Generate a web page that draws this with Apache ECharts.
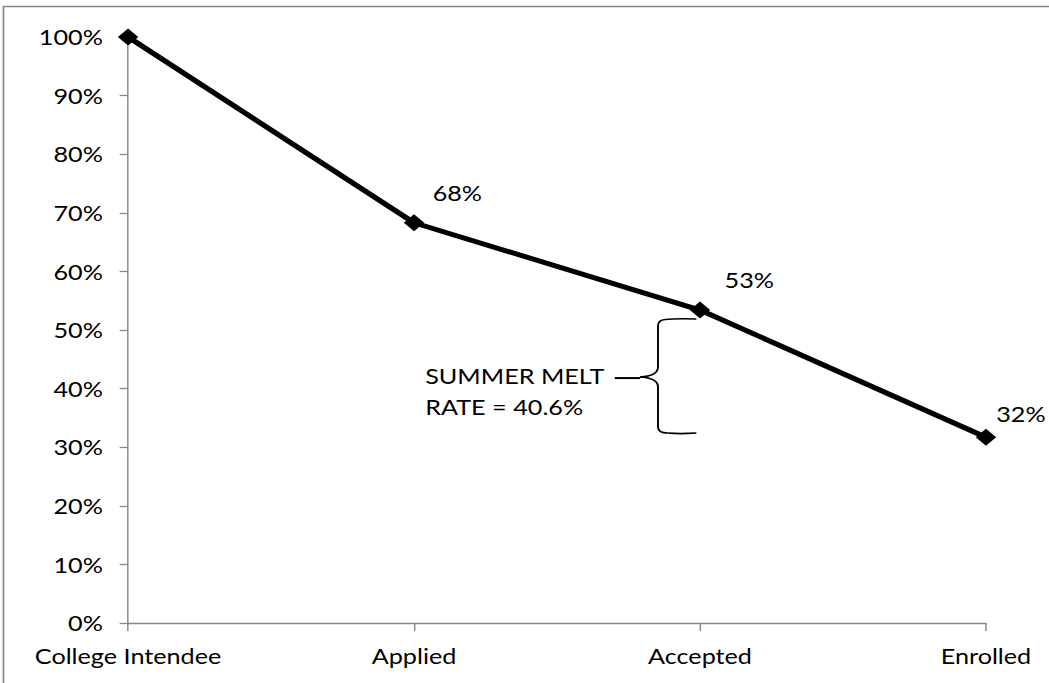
<!DOCTYPE html>
<html>
<head>
<meta charset="utf-8">
<script src="https://cdn.jsdelivr.net/npm/echarts@6/dist/echarts.min.js"></script>
<style>
  html, body { margin: 0; padding: 0; background: #fff; overflow: hidden; }
  /* the chart is laid out narrower and widened to the page width */
  #chart { width: 874px; height: 683px; transform: scaleX(1.2002); transform-origin: 0 0; }
</style>
</head>
<body>
<div id="chart"></div>
<script>
// Stages of the college pipeline and the share of intendees reaching each one
const stages = ['College Intendee', 'Applied', 'Accepted', 'Enrolled'];
const shares = [100, 68.3, 53.4, 31.7];
const yTicks = { min: 0, max: 100, interval: 10 };
const meltNote = ['SUMMER MELT', 'RATE = 40.6%'];

const FONT = 'Lato';
const FONT_SIZE = 21;
const AXIS_GRAY = '#868686';

const chart = echarts.init(document.getElementById('chart'), null, { renderer: 'svg' });

// label placement per point (first point carries no label)
const labelOffsets = [null, [2, -30], [7, -30], [-5, -23]];

const seriesData = shares.map((v, i) => ({
  value: v,
  label: labelOffsets[i]
    ? { show: true, position: 'right', offset: labelOffsets[i] }
    : { show: false }
}));

chart.setOption({
  animation: false,
  textStyle: { fontFamily: FONT },
  grid: { left: 106.7, right: 52.5, top: 37, bottom: 60 },
  xAxis: {
    type: 'category',
    data: stages,
    boundaryGap: false,
    axisLine: { lineStyle: { color: AXIS_GRAY, width: 1.3 } },
    axisTick: { show: true, alignWithLabel: true, length: 8, lineStyle: { color: AXIS_GRAY, width: 1.2 } },
    axisLabel: { color: '#000', fontSize: FONT_SIZE, fontFamily: FONT, margin: 22 },
    splitLine: { show: false }
  },
  yAxis: {
    type: 'value',
    min: yTicks.min,
    max: yTicks.max,
    interval: yTicks.interval,
    axisLine: { show: true, lineStyle: { color: AXIS_GRAY, width: 1.2 } },
    axisTick: { show: true, length: 7, lineStyle: { color: AXIS_GRAY, width: 1.3 } },
    axisLabel: { color: '#000', fontSize: FONT_SIZE, fontFamily: FONT, margin: 21, formatter: '{value}%' },
    splitLine: { show: false }
  },
  series: [{
    type: 'line',
    data: seriesData,
    symbol: 'diamond',
    symbolSize: 17,
    showAllSymbol: true,
    itemStyle: { color: '#000' },
    lineStyle: { color: '#000', width: 5 },
    label: {
      color: '#000',
      fontSize: FONT_SIZE,
      fontFamily: FONT,
      formatter: p => Math.round(p.value) + '%'
    },
    z: 3
  }]
});

// chart frame, brace and note around the accepted -> enrolled drop
function drawOverlay() {
  const acc = chart.convertToPixel({ gridIndex: 0 }, [2, shares[2]]);
  const ax = acc[0], ay = acc[1];
  const top = ay + 9;          // upper end of the brace
  const mid = top + 58;        // point of the brace
  const bot = mid + 56;        // lower end of the brace
  const sx = ax - 35;          // brace spine
  const tipX = sx - 15;
  const r = 6;
  const ink = { stroke: '#000', lineWidth: 1.6, fill: 'none' };
  const seg = (x1, y1, x2, y2) => ({ type: 'line', silent: true, z: 2, shape: { x1, y1, x2, y2 }, style: ink });
  const curve = (x1, y1, cx, cy, x2, y2) => ({
    type: 'bezierCurve', silent: true, z: 2,
    shape: { x1, y1, cpx1: cx, cpy1: cy, x2, y2 }, style: ink
  });

  chart.setOption({
    graphic: [
      {
        type: 'rect',
        silent: true,
        shape: { x: 2.9, y: 6.5, width: 1000, height: 900 },
        style: { fill: 'none', stroke: AXIS_GRAY, lineWidth: 1.4 },
        z: 0
      },
      curve(ax - 3, top, sx + 16, top - 1, sx + r, top + 0.5),
      curve(sx + r, top + 0.5, sx, top + 1, sx, top + r + 1),
      seg(sx, top + r + 1, sx, mid - 10),
      curve(sx, mid - 10, sx, mid - 1, tipX, mid),
      curve(tipX, mid, sx, mid + 1, sx, mid + 10),
      seg(sx, mid + 10, sx, bot - r),
      curve(sx, bot - r, sx, bot, sx + r + 2, bot),
      curve(sx + r + 2, bot, sx + 18, bot + 1, ax - 3, bot),
      {
        type: 'line',
        silent: true,
        shape: { x1: tipX - 21, y1: mid + 1, x2: tipX, y2: mid + 1 },
        style: { stroke: '#000', lineWidth: 2 },
        z: 2
      },
      {
        type: 'text',
        silent: true,
        x: ax - 229,
        y: mid + 14,
        style: {
          text: meltNote[0] + '\n' + meltNote[1],
          font: FONT_SIZE + 'px ' + FONT,
          fill: '#000',
          lineHeight: 31,
          verticalAlign: 'middle'
        },
        z: 2
      }
    ]
  });
}
drawOverlay();
</script>
</body>
</html>
